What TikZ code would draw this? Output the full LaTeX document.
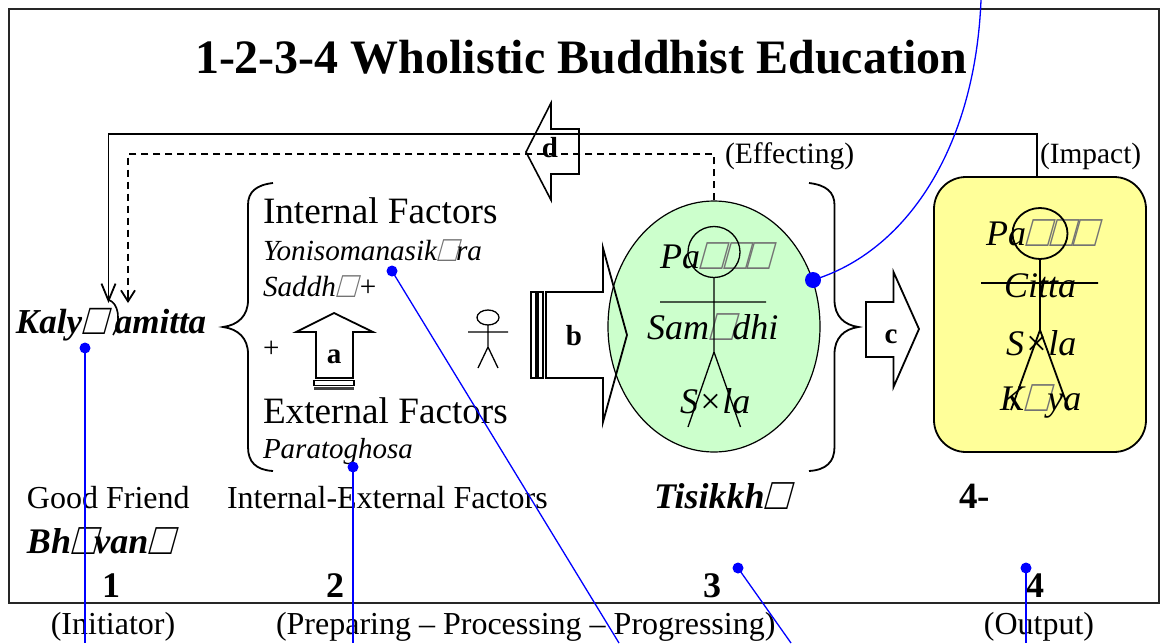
\documentclass[tikz,border=0pt]{standalone}
\usepackage{fontspec}
\setmainfont{Liberation Serif}
\newfontfamily\tofufam[FakeSlant=0.28,FakeStretch=0.86,Scale=1.25]{Liberation Serif}
\usetikzlibrary{arrows.meta,shapes.geometric}
\newcommand{\fz}[1]{\fontsize{#1}{#1}\selectfont}
\newcommand{\tofu}{\raisebox{-0.05em}{\tofufam\upshape\mdseries\color{black!55}□}}
\newcommand{\tofub}{\raisebox{-0.05em}{\tofufam\upshape\bfseries □}}
\definecolor{bluelink}{RGB}{0,0,255}
\definecolor{greenfill}{RGB}{204,255,204}
\definecolor{yellowfill}{RGB}{255,255,153}
\tikzset{
  x=1pt,y=-1pt,
  txt/.style={anchor=base west,inner sep=0,outer sep=0,text=black},
  ctxt/.style={anchor=base,inner sep=0,outer sep=0,text=black},
  heavy/.style={line width=1.8pt,black,line join=miter},
  figure/.style={line width=1.3pt,black},
  openhead/.style={-{Straight Barb[length=17pt,width=14pt,line width=1.8pt]}},
  openheaddash/.style={-{Straight Barb[length=11pt,width=14pt,line width=1.8pt]}},
  blueline/.style={line width=1.3pt,bluelink},
  bluedot/.style={circle,fill=bluelink,inner sep=0,minimum size=11pt,outer sep=0},
}
\begin{document}
\begin{tikzpicture}
\useasboundingbox (0,0) rectangle (1160,643);
\fill[white] (0,0) rectangle (1160,643);
\draw[line width=2pt,black!85] (8.5,8.5) rectangle (1158.5,603);

% shapes
\node[ellipse,draw=black,line width=1.2pt,fill=greenfill,minimum width=212pt,minimum height=251pt,inner sep=0] (mind) at (714,326.5) {};
\node[rectangle,rounded corners=32pt,draw=black,line width=1.8pt,fill=yellowfill,minimum width=212pt,minimum height=275pt,inner sep=0] (impact) at (1040,314.5) {};

% title
\node[txt] (title) at (195,73) {\fz{48}\bfseries 1-2-3-4 Wholistic Buddhist Education};

% braces
\draw[heavy] (273,183) .. controls (256,185) and (248,192) .. (248,205) -- (248,300) .. controls (248,316) and (238,325) .. (223,327) .. controls (238,329) and (248,338) .. (248,354) -- (248,447) .. controls (248,462) and (256,470) .. (273,471);
\draw[heavy] (809,183) .. controls (826,185) and (834.5,192) .. (834.5,205) -- (834.5,300) .. controls (834.5,316) and (844,325) .. (858.5,327) .. controls (844,329) and (834.5,338) .. (834.5,354) -- (834.5,447) .. controls (834.5,462) and (826,470) .. (809,471);

% left texts
\node[txt] (friend) at (16,333) {\fz{35}\bfseries\itshape Kaly\tofub\hspace{10pt}amitta};
\draw[line width=1.6pt] (109,300) .. controls (118,303) and (122,320) .. (113,335);
\node[txt] (intf) at (263,223) {\fz{37.2}Internal Factors};
\node[txt] (yoni) at (263,260) {\fz{29.2}\itshape Yonisomanasik\tofu ra};
\node[txt] (sad) at (263,296) {\fz{29.2}\itshape Saddh\tofu\,\upshape +};
\node[txt] (plus) at (263,357) {\fz{29}+};
\node[txt] (extf) at (263,423) {\fz{37.2}External Factors};
\node[txt] (para) at (263,458) {\fz{29}\itshape Paratoghosa};
\node[txt] (gf) at (27,508) {\fz{32}Good Friend};
\node[txt] (ief) at (227,508) {\fz{32}Internal-External Factors};
\node[txt] (bha) at (27,553) {\fz{36}\bfseries\itshape Bh\tofub van\tofub};
\node[txt] (tis) at (654,508) {\fz{36}\bfseries\itshape Tisikkh\tofub};
\node[txt] (four) at (959,508) {\fz{37}\bfseries 4-};
\node[ctxt] (n1) at (111,597) {\fz{36}\bfseries 1};
\node[ctxt] (n2) at (335,597) {\fz{36}\bfseries 2};
\node[ctxt] (n3) at (712,597) {\fz{36}\bfseries 3};
\node[ctxt] (n4) at (1035,597) {\fz{36}\bfseries 4};
\node[ctxt] (init) at (113,634) {\fz{32}(Initiator)};
\node[txt] (ppp) at (276,634) {\fz{32}(Preparing – Processing – Progressing)};
\node[ctxt] (outp) at (1039,634) {\fz{32}(Output)};
\node[txt] (eff) at (725,163) {\fz{29.6}(Effecting)};
\node[txt] (imp) at (1040,163) {\fz{29.4}(Impact)};

% block arrows
\draw[heavy] (546,292) -- (603,292) -- (603,248) -- (627,335) -- (603,422) -- (603,378) -- (546,378) -- cycle;
\draw[line width=1.1pt] (531,292) rectangle (536,378);
\draw[line width=1.1pt] (538,292) rectangle (543,378);
\node[ctxt] (lb) at (574,345) {\fz{29}\bfseries b};
\draw[heavy] (316,378) -- (316,332) -- (296,332) -- (334,313) -- (373,332) -- (353,332) -- (353,378) -- cycle;
\draw[line width=1.2pt] (314,380.5) rectangle (354,385.5);
\fill[black!75] (314,386.5) rectangle (354,390);
\node[ctxt] (la) at (334,363) {\fz{29}\bfseries a};
\draw[heavy] (866,302) -- (893.5,302) -- (893.5,272) -- (919,329) -- (893.5,387) -- (893.5,357) -- (866,357) -- cycle;
\node[ctxt] (lc) at (891,343) {\fz{29}\bfseries c};

% connectors
\coordinate (kt) at (108.5,303);
\coordinate (kd) at (128,303);
\draw[heavy,openhead] (1037,177) -- (1037,134) -- (108.5,134) -- (kt);
\draw[heavy,dash pattern=on 7pt off 5pt] (mind.north) -- (714,154) -- (128,154) -- (128,295);
\draw[heavy,openheaddash] (128,290) -- (kd);
\draw[line width=1.6pt,black] (551,103) -- (526,152) -- (551,200) -- (551,174) -- (579,174) -- (579,129) -- (551,129) -- cycle;
\node[ctxt] (ld) at (550,157) {\fz{29}\bfseries d};

% small figure
\draw[figure] (488,317.5) ellipse [x radius=11,y radius=7.5];
\draw[figure] (488,325) -- (488,347) (468,332) -- (508,332) (478,368) -- (488,347) -- (498,368);

% text in the ellipse
\node[txt] (p1) at (660,268) {\fz{36}\itshape Pa\tofu\tofu\tofu};
\node[txt] (s1) at (647,339) {\fz{36}\itshape Sam\tofu dhi};
\node[txt] (s2) at (680,413) {\fz{36}\itshape S×la};
% figure in the ellipse
\draw[figure] (714,252) ellipse [x radius=26,y radius=25.5];
\draw[figure] (714,277.5) -- (714,352) (660,302) -- (766,302) (688,427) -- (714,352) -- (740.5,427);

% text in the yellow box
\node[txt] (p2) at (986,245) {\fz{36}\itshape Pa\tofu\tofu\tofu};
\node[txt] (c2) at (1004,297) {\fz{36}\itshape Citta};
\node[txt] (s3) at (1006,355) {\fz{36}\itshape S×la};
\node[txt] (k2) at (1000,410) {\fz{36}\itshape K\tofu ya};
% figure in the yellow box
\draw[heavy] (1040,233.5) ellipse [x radius=27.5,y radius=25.5];
\draw[heavy] (1040,259) -- (1040,330) (981,283) -- (1098,283) (1011,410) -- (1040,330) -- (1069,410);

% blue callouts
\coordinate (e1) at (85,643);
\coordinate (e2) at (353,643);
\coordinate (e3) at (619,643);
\coordinate (e4) at (791,643);
\coordinate (e5) at (1026,643);
\coordinate (e6) at (981,0);
\node[bluedot] (d1) at (85,348) {};
\node[bluedot] (d2) at (353,467) {};
\node[bluedot] (d3) at (392,271) {};
\node[bluedot] (d4) at (738,568) {};
\node[bluedot] (d5) at (1026,568) {};
\node[bluedot,minimum size=16pt] (d6) at (813,280) {};
\draw[blueline] (d1.center) -- (e1);
\draw[blueline] (d2.center) -- (e2);
\draw[blueline] (d3.center) -- (e3);
\draw[blueline] (d4.center) -- (e4);
\draw[blueline] (d5.center) -- (e5);
\draw[blueline] (d6.center) .. controls (905,252) and (975,150) .. (e6);
\end{tikzpicture}
\end{document}
